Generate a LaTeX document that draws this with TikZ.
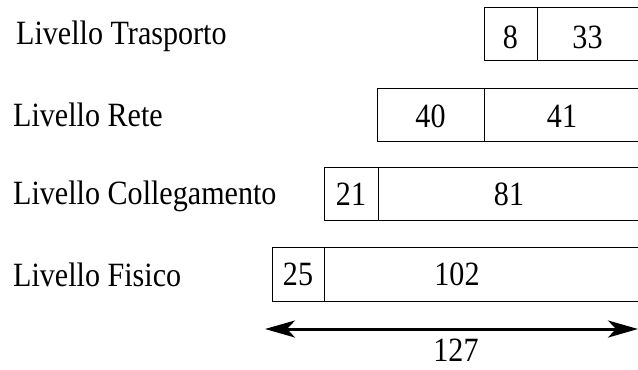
\documentclass[tikz,border=0pt]{standalone}
\usepackage{fontspec}
\setmainfont{Liberation Serif}[FakeStretch=0.885]
\usetikzlibrary{arrows.meta}

\tikzset{
  cell/.style={draw=black, line width=1.3bp, inner sep=0pt, anchor=north west, minimum height=53bp},
  num/.style={inner sep=0pt, anchor=base, font=\fontsize{34bp}{40bp}\selectfont},
  layer/.style={inner sep=0pt, anchor=base west, font=\fontsize{34bp}{40bp}\selectfont},
  span/.style={line width=3bp, {Stealth[length=30bp,width=17bp,inset=8bp]}-{Stealth[length=30bp,width=17bp,inset=8bp]}}
}

\begin{document}
\begin{tikzpicture}[x=1bp, y=-1bp]
  \useasboundingbox (0,0) rectangle (638,369);
  \clip (0,0) rectangle (638,369);

  % layer names
  \node[layer] (lT) at (16,44.5) {Livello Trasporto};
  \node[layer] (lR) at (13,126.5) {Livello Rete};
  \node[layer] (lC) at (13,204) {Livello Collegamento};
  \node[layer] (lF) at (13,286) {Livello Fisico};

  % transport segment: header 8 + payload 33
  \node[cell, minimum width=53bp]  (h8)  at (484,7) {};
  \node[cell, minimum width=102bp] (p33) at (537,7) {};
  \node[num] (n8)  at (510.5,48) {8};
  \node[num] (n33) at (587.5,48) {33};

  % network datagram: header 40 + payload 41
  \node[cell, minimum width=107bp] (h40) at (377,88) {};
  \node[cell, minimum width=155bp] (p41) at (484,88) {};
  \node[num] (n40) at (430.5,127) {40};
  \node[num] (n41) at (562,127) {41};

  % link frame: header 21 + payload 81
  \node[cell, minimum width=54bp]  (h21) at (324,167) {};
  \node[cell, minimum width=261bp] (p81) at (378,167) {};
  \node[num] (n21) at (351,205) {21};
  \node[num] (n81) at (509,205) {81};

  % physical: header 25 + payload 102
  \node[cell, minimum width=52bp, minimum height=54bp]  (h25)  at (272,247) {};
  \node[cell, minimum width=315bp, minimum height=54bp] (p102) at (324,247) {};
  \node[num] (n25)  at (298,285.5) {25};
  \node[num] (n102) at (457,285.5) {102};

  % total length
  \coordinate (aL) at (265,329);
  \coordinate (aR) at (638,329);
  \draw[span] (aL) -- (aR);
  \node[num] (n127) at (456,361.5) {127};
\end{tikzpicture}
\end{document}
